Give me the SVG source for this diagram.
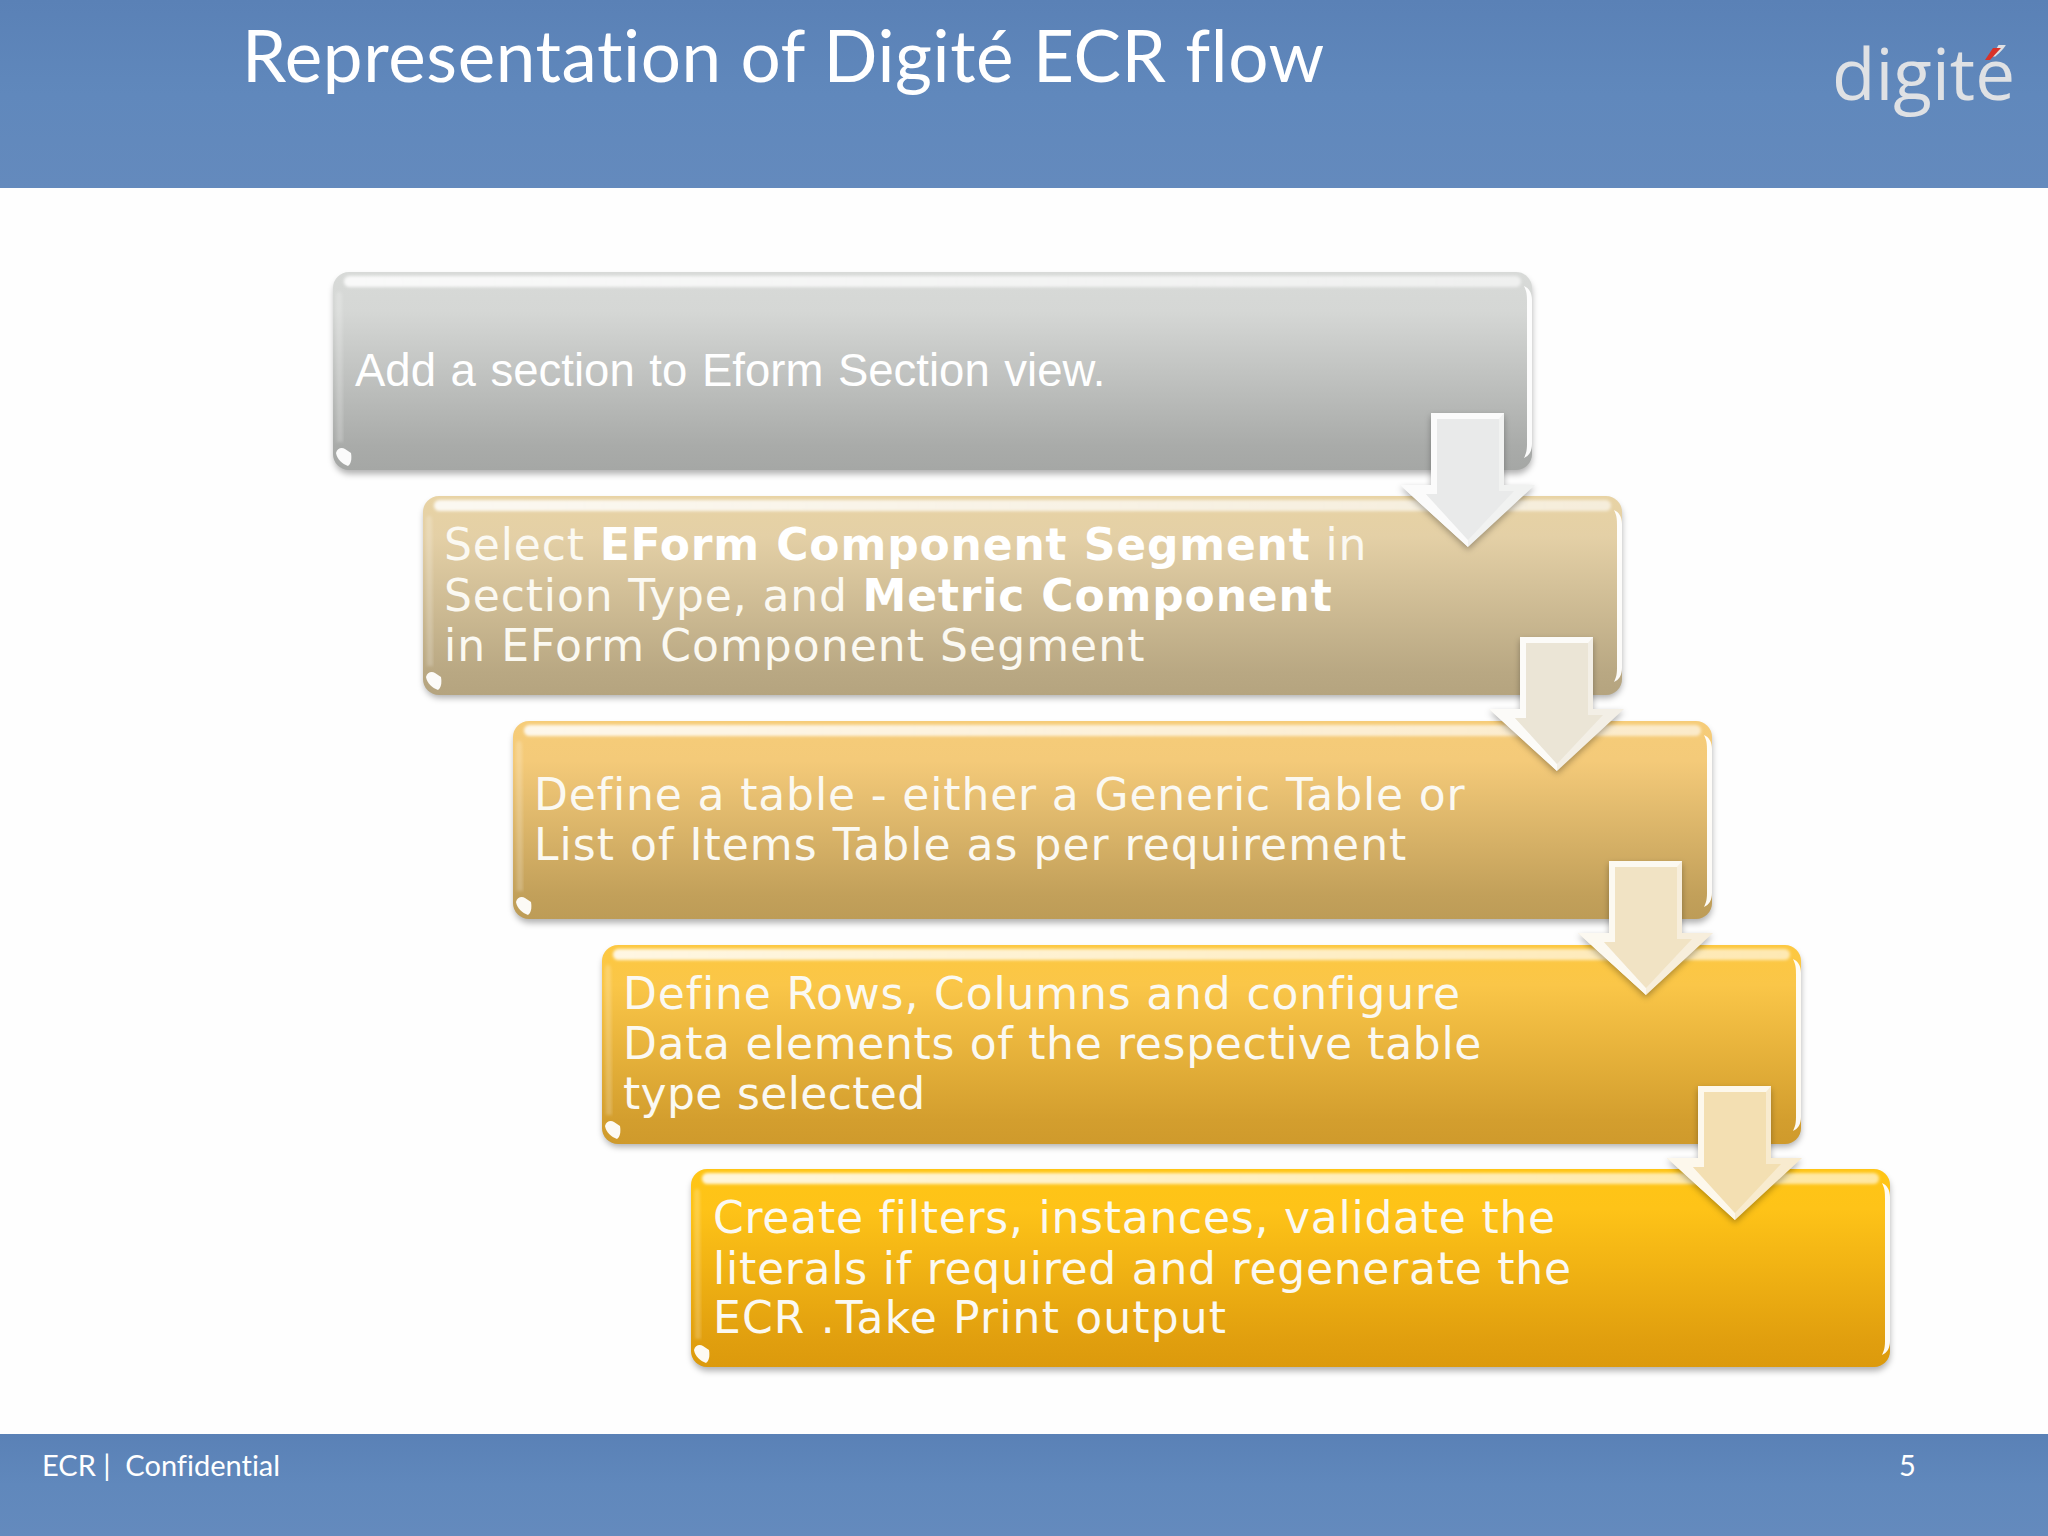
<svg xmlns="http://www.w3.org/2000/svg" width="2048" height="1536" viewBox="0 0 2048 1536">
<style>
.t{font-family:"DejaVu Sans",Verdana,sans-serif;font-size:44px;letter-spacing:.85px;fill:#fbf9f2}
.b{font-weight:bold;fill:#fff}
.h{font-family:Lato,"Open Sans",sans-serif;fill:#fff;font-variant-ligatures:none}
</style>
<defs>
<linearGradient id="band" x1="0" y1="0" x2="0" y2="1"><stop offset="0" stop-color="#5a81b6"/><stop offset="0.5" stop-color="#6088bc"/><stop offset="1" stop-color="#648abd"/></linearGradient>
<linearGradient id="g1" x1="0" y1="0" x2="0" y2="1"><stop offset="0" stop-color="#d8dad8"/><stop offset="0.2" stop-color="#d5d7d5"/><stop offset="0.88" stop-color="#a9aba9"/><stop offset="1" stop-color="#a5a7a5"/></linearGradient>
<linearGradient id="g2" x1="0" y1="0" x2="0" y2="1"><stop offset="0" stop-color="#e8d3a4"/><stop offset="0.2" stop-color="#e4d0a6"/><stop offset="0.88" stop-color="#b9a883"/><stop offset="1" stop-color="#b5a47f"/></linearGradient>
<linearGradient id="g3" x1="0" y1="0" x2="0" y2="1"><stop offset="0" stop-color="#f6cc78"/><stop offset="0.2" stop-color="#f4ca79"/><stop offset="0.88" stop-color="#c2a05a"/><stop offset="1" stop-color="#bd9c57"/></linearGradient>
<linearGradient id="g4" x1="0" y1="0" x2="0" y2="1"><stop offset="0" stop-color="#fdc840"/><stop offset="0.2" stop-color="#fac648"/><stop offset="0.88" stop-color="#d39e2e"/><stop offset="1" stop-color="#cf9a2c"/></linearGradient>
<linearGradient id="g5" x1="0" y1="0" x2="0" y2="1"><stop offset="0" stop-color="#ffc515"/><stop offset="0.2" stop-color="#fec318"/><stop offset="0.88" stop-color="#e09e0e"/><stop offset="1" stop-color="#dc9a0c"/></linearGradient>
<linearGradient id="barfade" x1="0" y1="0" x2="1" y2="0"><stop offset="0" stop-color="#fff" stop-opacity="0.85"/><stop offset="1" stop-color="#fff" stop-opacity="0.6"/></linearGradient>
<filter id="sh" x="-5%" y="-10%" width="110%" height="125%"><feGaussianBlur stdDeviation="3"/></filter>
<filter id="soft" x="-5%" y="-30%" width="110%" height="160%"><feGaussianBlur stdDeviation="1.4"/></filter>
<g id="gloss">
<rect x="11" y="4" width="1177" height="11" rx="5.5" fill="url(#barfade)" filter="url(#soft)"/>
<path d="M3 24C4 18 8 18 9 24L10 170 4 170Z" fill="#fff" fill-opacity="0.2" filter="url(#soft)"/>
<path d="M1191 14C1196 16 1199 21 1199 28L1199 172C1199 179 1196 184 1191 186C1194 180 1194 176 1194 170L1194 30C1194 24 1194 20 1191 14Z" fill="#fff" fill-opacity="0.95"/>
<path d="M3 181C4 176 9 175 12 177L18 181C19 187 18 192 15 194C9 192 4 187 3 181Z" fill="#fff" fill-opacity="0.95"/>
</g>
<path id="arrowOuter" d="M31 0H104V72H135L68 134 0 72H31Z"/>
<path id="arrowInner" d="M37 6H99V78H114L68 127 26 81H37Z"/>
<path id="arrowLit" d="M31 0H104L99 6H37V81H26L68 127V134L0 72H31Z"/>
</defs>
<rect width="2048" height="1536" fill="#fefefe"/>
<rect width="2048" height="188" fill="url(#band)"/>
<rect y="1434" width="2048" height="102" fill="url(#band)"/>
<text class="h" x="242" y="82" font-size="71" letter-spacing="0.6">Representation of Digité ECR flow</text>
<g id="logo"><text x="1832" y="100" font-family="'Open Sans',sans-serif" font-weight="400" font-size="71" fill="#dfe1e4">digité</text><path d="M1985 60L1993 48H2001L1990 60Z" fill="#d8332a"/></g>
<text class="h" x="42" y="1476" font-size="29">ECR |&#160;&#160;Confidential</text>
<text class="h" x="1899" y="1476" font-size="29">5</text>

<g id="node1" transform="translate(333 272)">
<rect x="1" y="5" width="1198" height="197" rx="16" fill="#000" fill-opacity="0.3" filter="url(#sh)"/>
<rect width="1199" height="198" rx="16" fill="url(#g1)"/><use href="#gloss"/>
<text x="22" y="114" font-family="'Liberation Sans',Arial,sans-serif" font-size="45.5" fill="#fff" word-spacing="2">Add a section to Eform Section view.</text>
</g>
<g id="node2" transform="translate(423 496)">
<rect x="1" y="5" width="1198" height="197" rx="16" fill="#000" fill-opacity="0.3" filter="url(#sh)"/>
<rect width="1199" height="199" rx="16" fill="url(#g2)"/><use href="#gloss"/>
<text class="t" x="21" y="64">Select <tspan class="b">EForm Component Segment</tspan> in</text>
<text class="t" x="21" y="115">Section Type, and <tspan class="b">Metric Component</tspan></text>
<text class="t" x="21" y="165" style="letter-spacing:1.05px">in EForm Component Segment</text>
</g>
<g id="node3" transform="translate(513 721)">
<rect x="1" y="5" width="1198" height="197" rx="16" fill="#000" fill-opacity="0.3" filter="url(#sh)"/>
<rect width="1199" height="198" rx="16" fill="url(#g3)"/><use href="#gloss"/>
<text class="t" x="21" y="89">Define a table - either a Generic Table or</text>
<text class="t" x="21" y="139" style="letter-spacing:1.02px">List of Items Table as per requirement</text>
</g>
<g id="node4" transform="translate(602 945)">
<rect x="1" y="5" width="1198" height="197" rx="16" fill="#000" fill-opacity="0.3" filter="url(#sh)"/>
<rect width="1199" height="199" rx="16" fill="url(#g4)"/><use href="#gloss"/>
<text class="t" x="21" y="64">Define Rows, Columns and configure</text>
<text class="t" x="21" y="114" style="letter-spacing:.67px">Data elements of the respective table</text>
<text class="t" x="21" y="164" style="letter-spacing:.35px">type selected</text>
</g>
<g id="node5" transform="translate(691 1169)">
<rect x="1" y="5" width="1198" height="197" rx="16" fill="#000" fill-opacity="0.3" filter="url(#sh)"/>
<rect width="1199" height="198" rx="16" fill="url(#g5)"/><use href="#gloss"/>
<text class="t" x="22" y="64" style="letter-spacing:.75px">Create filters, instances, validate the</text>
<text class="t" x="22" y="115" style="letter-spacing:.75px">literals if required and regenerate the</text>
<text class="t" x="22" y="164" style="letter-spacing:1.15px">ECR .Take Print output</text>
</g>

<g id="connectors">
<g transform="translate(1400 413)"><use href="#arrowOuter" y="3" fill="#000" fill-opacity="0.3" filter="url(#sh)"/><use href="#arrowOuter" fill="#f1f2f1"/><use href="#arrowLit" fill="#fbfbfb"/><use href="#arrowInner" fill="#e9eaea"/></g>
<g transform="translate(1489 637)"><use href="#arrowOuter" y="3" fill="#000" fill-opacity="0.3" filter="url(#sh)"/><use href="#arrowOuter" fill="#f3efe6"/><use href="#arrowLit" fill="#fcfbf8"/><use href="#arrowInner" fill="#ebe5d6"/></g>
<g transform="translate(1578 861)"><use href="#arrowOuter" y="3" fill="#000" fill-opacity="0.3" filter="url(#sh)"/><use href="#arrowOuter" fill="#f7eedc"/><use href="#arrowLit" fill="#fcf9f1"/><use href="#arrowInner" fill="#f1e3c4"/></g>
<g transform="translate(1667 1086)"><use href="#arrowOuter" y="3" fill="#000" fill-opacity="0.3" filter="url(#sh)"/><use href="#arrowOuter" fill="#f8ebcf"/><use href="#arrowLit" fill="#fdf8ec"/><use href="#arrowInner" fill="#f3dfb2"/></g>
</g>
</svg>
